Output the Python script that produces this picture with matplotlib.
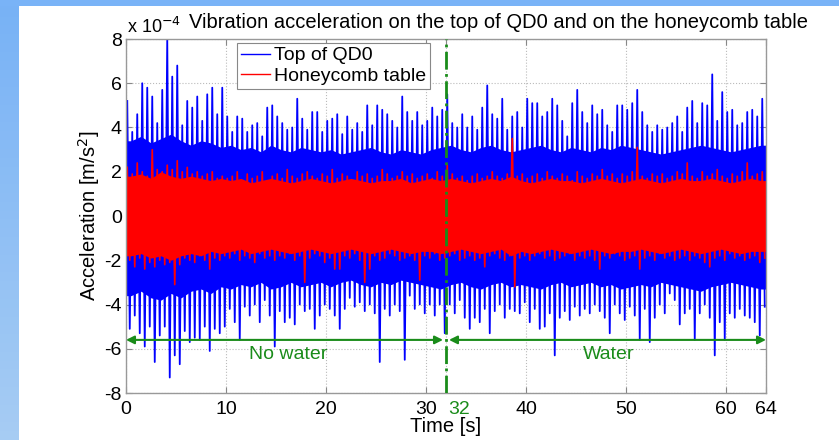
import numpy as np
import matplotlib
matplotlib.use('Agg')
import matplotlib.pyplot as plt
from matplotlib.transforms import ScaledTranslation

plt.rcParams['font.family'] = ['Liberation Sans', 'DejaVu Sans']

# --------------------------
# data (units of 1e-4 m/s^2)
# peaks: one value per 0.5 s bin, core: edge of the solid band per 1 s
# --------------------------
bin_width = 0.5
core_width = 1.0
top_upper = [5.2, 3.8, 4.6, 6.0, 5.8, 5.4, 4.2, 5.7, 8.0, 6.3, 6.8, 4.1, 5.2, 4.9, 5.4, 4.3,
             5.5, 5.8, 4.6, 5.8, 4.5, 3.8, 4.5, 4.4, 3.8, 4.1, 4.2, 3.6, 4.9, 5.0, 4.5, 4.2,
             3.9, 4.0, 5.3, 4.4, 3.9, 4.7, 4.7, 3.8, 4.3, 4.4, 4.6, 3.7, 4.5, 3.9, 4.2, 3.8,
             5.0, 4.1, 5.0, 4.8, 4.6, 4.3, 4.0, 5.4, 4.7, 4.3, 4.7, 4.1, 4.3, 4.9, 4.5, 4.8,
             5.5, 4.2, 4.0, 4.6, 4.0, 4.5, 3.9, 4.9, 5.9, 4.6, 4.4, 5.3, 3.9, 4.5, 4.7, 4.0,
             5.3, 5.1, 5.1, 4.5, 4.7, 5.3, 5.0, 4.3, 3.6, 5.1, 5.7, 4.7, 4.2, 5.0, 4.6, 4.8,
             4.1, 3.8, 5.0, 5.0, 4.8, 5.1, 5.7, 4.7, 4.1, 3.8, 4.1, 3.9, 4.0, 4.2, 4.5, 3.8,
             4.9, 5.2, 4.2, 5.1, 5.0, 6.4, 4.3, 5.6, 4.7, 4.8, 4.1, 4.2, 4.7, 4.8, 4.5, 5.3]
top_lower = [-5.1, -4.5, -5.3, -5.9, -5.0, -6.6, -5.4, -5.0, -7.3, -6.3, -6.7, -5.2, -5.7, -5.5, -5.6, -5.0,
             -6.1, -5.1, -5.3, -5.0, -4.2, -4.8, -5.6, -4.1, -4.5, -4.0, -4.8, -3.8, -4.5, -5.9, -4.3, -4.8,
             -4.6, -4.9, -4.0, -4.3, -4.2, -5.1, -4.5, -4.0, -4.2, -4.5, -5.1, -4.2, -3.7, -4.1, -3.9, -4.3,
             -4.0, -4.4, -6.6, -4.2, -4.5, -4.0, -4.3, -6.5, -3.6, -4.2, -4.0, -4.4, -4.0, -4.5, -4.0, -5.3,
             -4.0, -4.4, -3.8, -4.6, -5.1, -4.6, -4.8, -4.2, -5.3, -4.3, -4.0, -4.6, -4.2, -4.3, -4.4, -3.9,
             -4.8, -4.2, -5.1, -5.0, -4.4, -6.3, -4.6, -4.3, -4.7, -4.1, -4.5, -4.2, -4.4, -4.0, -4.3, -4.6,
             -5.3, -4.0, -4.4, -4.7, -4.1, -4.5, -5.6, -4.2, -5.7, -4.6, -4.0, -4.4, -3.5, -3.8, -4.9, -4.4,
             -4.2, -5.6, -4.4, -4.0, -4.6, -6.3, -4.8, -5.6, -4.4, -4.6, -4.2, -4.5, -4.6, -4.8, -5.4, -4.1]
table_upper = [2.2, 1.9, 2.4, 2.0, 1.8, 3.0, 2.1, 2.0, 2.3, 2.1, 2.5, 2.0, 2.2, 1.9, 2.0, 1.8,
               1.9, 2.0, 1.7, 1.8, 1.7, 1.8, 2.0, 1.6, 1.9, 1.7, 1.8, 2.0, 1.6, 1.8, 1.9, 1.7,
               2.1, 1.8, 1.7, 1.9, 2.0, 1.8, 1.7, 1.9, 1.8, 2.1, 1.7, 1.9, 1.8, 1.6, 2.0, 1.8,
               1.9, 1.7, 1.8, 2.1, 1.9, 1.7, 1.8, 2.0, 1.8, 1.9, 1.7, 1.8, 1.9, 1.7, 2.0, 1.8,
               2.3, 1.9, 1.7, 1.8, 1.6, 1.8, 1.9, 1.7, 1.8, 2.0, 1.8, 1.7, 1.9, 3.5, 1.8, 1.9,
               1.7, 1.8, 1.9, 1.7, 2.0, 1.8, 1.7, 1.9, 1.8, 1.6, 2.0, 1.8, 1.7, 1.9, 1.8, 2.1,
               1.8, 1.9, 1.7, 1.9, 1.8, 2.0, 3.1, 1.8, 1.7, 1.9, 1.8, 1.9, 1.7, 1.8, 2.0, 1.9,
               2.4, 1.8, 1.7, 2.0, 1.8, 1.9, 2.1, 1.8, 1.7, 1.9, 1.8, 2.0, 2.4, 1.8, 1.9, 2.0]
table_lower = [-2.0, -2.3, -1.9, -2.4, -2.1, -2.3, -2.0, -2.2, -2.1, -3.1, -2.2, -1.9, -2.0, -2.1, -1.8, -2.0,
               -2.4, -1.9, -2.0, -1.8, -1.9, -1.7, -2.0, -1.8, -1.9, -2.1, -1.7, -1.9, -1.8, -2.0, -1.8, -1.9,
               -1.7, -2.0, -1.8, -3.0, -1.9, -1.7, -1.8, -2.1, -1.9, -2.4, -2.4, -1.8, -1.9, -1.7, -2.0, -3.0,
               -2.4, -1.8, -2.0, -1.9, -1.7, -1.8, -2.0, -1.9, -1.8, -2.0, -2.9, -1.8, -1.9, -1.7, -2.0, -1.9,
               -1.8, -1.7, -2.0, -1.9, -1.8, -2.0, -1.9, -2.3, -1.8, -1.7, -1.9, -2.0, -1.8, -3.2, -1.9, -1.8,
               -2.0, -1.8, -1.7, -1.9, -1.8, -2.0, -1.9, -1.8, -1.7, -2.0, -1.8, -1.9, -1.8, -2.0, -2.4, -1.8,
               -1.9, -1.7, -1.8, -2.0, -1.9, -1.8, -2.4, -1.9, -1.8, -2.0, -1.7, -1.9, -1.8, -2.0, -1.9, -1.8,
               -2.0, -1.8, -1.9, -2.1, -2.3, -1.9, -1.8, -2.0, -1.7, -1.9, -1.8, -2.0, -1.9, -1.8, -2.1, -1.9]
top_core_upper = [3.4, 3.6, 3.3, 3.5, 3.7, 3.4, 3.2, 3.4, 3.3, 3.1,
                  3.2, 3.0, 3.1, 2.9, 3.2, 3.0, 2.9, 3.1, 3.0, 2.9,
                  3.0, 2.8, 2.9, 3.0, 3.1, 2.9, 2.8, 3.0, 2.9, 2.8,
                  3.0, 3.1, 3.2, 3.0, 2.9, 3.1, 3.2, 3.0, 2.9, 3.0,
                  3.1, 3.2, 3.0, 2.9, 3.1, 3.0, 2.9, 3.1, 3.0, 3.2,
                  3.1, 3.0, 2.9, 2.8, 2.9, 3.0, 3.1, 3.2, 3.1, 3.0,
                  2.9, 3.0, 3.1, 3.2]
top_core_lower = [-3.6, -3.4, -3.7, -3.8, -3.5, -3.7, -3.4, -3.3, -3.5, -3.2,
                  -3.3, -3.1, -3.2, -3.0, -3.3, -3.2, -3.0, -3.2, -3.1, -3.0,
                  -3.2, -3.0, -2.9, -3.1, -3.2, -3.0, -3.1, -2.9, -3.0, -3.1,
                  -3.2, -3.3, -3.1, -3.0, -3.2, -3.3, -3.1, -3.0, -3.2, -3.1,
                  -3.2, -3.3, -3.1, -3.0, -3.2, -3.1, -3.0, -3.2, -3.1, -3.3,
                  -3.2, -3.1, -3.2, -3.0, -3.1, -3.2, -3.3, -3.4, -3.2, -3.1,
                  -3.0, -3.1, -3.2, -3.3]
table_core_upper = [1.8, 1.9, 1.7, 2.0, 1.8, 1.7, 1.8, 1.7, 1.6, 1.7,
                    1.6, 1.7, 1.5, 1.6, 1.7, 1.6, 1.5, 1.6, 1.7, 1.6,
                    1.5, 1.6, 1.7, 1.6, 1.5, 1.6, 1.6, 1.7, 1.5, 1.6,
                    1.7, 1.6, 1.7, 1.6, 1.5, 1.6, 1.7, 1.6, 1.8, 1.6,
                    1.5, 1.6, 1.7, 1.6, 1.6, 1.5, 1.6, 1.7, 1.6, 1.5,
                    1.6, 1.7, 1.6, 1.5, 1.6, 1.7, 1.6, 1.6, 1.7, 1.6,
                    1.5, 1.6, 1.7, 1.6]
table_core_lower = [-1.8, -1.7, -1.9, -1.8, -2.0, -1.8, -1.7, -1.8, -1.6, -1.7,
                    -1.6, -1.5, -1.7, -1.6, -1.5, -1.6, -1.7, -1.6, -1.5, -1.6,
                    -1.7, -1.6, -1.5, -1.6, -1.7, -1.6, -1.5, -1.6, -1.7, -1.6,
                    -1.6, -1.7, -1.6, -1.5, -1.6, -1.7, -1.6, -1.5, -1.8, -1.6,
                    -1.7, -1.6, -1.5, -1.6, -1.7, -1.6, -1.5, -1.6, -1.7, -1.6,
                    -1.6, -1.5, -1.6, -1.7, -1.6, -1.5, -1.6, -1.7, -1.6, -1.5,
                    -1.6, -1.7, -1.6, -1.6]

xticks = [0, 10, 20, 30, 32, 40, 50, 60, 64]
yticks = [-8, -6, -4, -2, 0, 2, 4, 6, 8]
water_start = 32
t_end = 64

green = '#1a8c1a'
fs = 14


def zigzag(upper, lower):
    # each bin: its positive peak, then its negative peak
    t0 = np.arange(len(upper)) * bin_width
    tt = np.column_stack([t0 + bin_width * 0.25, t0 + bin_width * 0.75]).ravel()
    vv = np.column_stack([upper, lower]).ravel() * 1e-4
    return tt, vv


def core_band(ax, upper, lower, color, z):
    tc = (np.arange(len(upper)) + 0.5) * core_width
    tc = np.concatenate([[0], tc, [t_end]])
    up = np.concatenate([[upper[0]], upper, [upper[-1]]]) * 1e-4
    lo = np.concatenate([[lower[0]], lower, [lower[-1]]]) * 1e-4
    ax.fill_between(tc, lo, up, color=color, lw=0, zorder=z)


fig = plt.figure(figsize=(8.39, 4.40), dpi=100)

# blue frame of the slide
band = fig.add_axes([0, 0, 19/839, 1])
band.imshow(np.linspace(0, 1, 50)[:, None], cmap=matplotlib.colors.LinearSegmentedColormap.from_list(
    'b', ['#78b2f6', '#a6ccf3']), aspect='auto', extent=[0, 1, 0, 1], origin='upper')
band.axis('off')
strip = fig.add_axes([0, 1 - 6/440, 1, 6/440])
strip.set_facecolor('#79b3f7')
strip.set_xticks([]); strip.set_yticks([])
for s in strip.spines.values():
    s.set_visible(False)

ax = fig.add_axes([126/839, 1 - 393/440, 640/839, 354/440])
ax.grid(True, ls=':', color='#bbbbbb', lw=0.8)
ax.set_axisbelow(True)

t1, v1 = zigzag(top_upper, top_lower)
t2, v2 = zigzag(table_upper, table_lower)
core_band(ax, top_core_upper, top_core_lower, 'blue', 2)
ax.plot(t1, v1, color='blue', lw=1.3, label='Top of QD0', zorder=2.1)
core_band(ax, table_core_upper, table_core_lower, 'red', 2.2)
ax.plot(t2, v2, color='red', lw=1.2, label='Honeycomb table', zorder=2.3)

ax.axvline(water_start, color=green, ls='-.', lw=2, zorder=3)

# arrows for the two periods
ya = -5.6e-4
ax.annotate('', xy=(0, ya), xytext=(water_start - 0.3, ya),
            arrowprops=dict(arrowstyle='<|-|>', color=green, lw=1.5, mutation_scale=12,
                            shrinkA=0, shrinkB=0), zorder=3)
ax.annotate('', xy=(water_start + 0.3, ya), xytext=(t_end, ya),
            arrowprops=dict(arrowstyle='<|-|>', color=green, lw=1.5, mutation_scale=12,
                            shrinkA=0, shrinkB=0), zorder=3)
ax.text(16.2, -6.25e-4, 'No water', color=green, fontsize=fs, ha='center', va='center')
ax.text(48.3, -6.25e-4, 'Water', color=green, fontsize=fs, ha='center', va='center')

ax.set_xlim(0, t_end)
ax.set_ylim(-8e-4, 8e-4)
ax.set_xticks(xticks)
ax.set_xticklabels([str(x) for x in xticks])
ax.set_yticks([y * 1e-4 for y in yticks])
ax.set_yticklabels([str(y) for y in yticks])
ax.tick_params(direction='in', top=True, right=True, length=4, color='#888888',
               labelsize=fs)
ax.tick_params(axis='x', pad=6)
ax.tick_params(axis='y', pad=3)
# the 32 label sits green, a bit to the right of its tick
lab32 = ax.get_xticklabels()[xticks.index(water_start)]
lab32.set_color(green)
lab32.set_transform(lab32.get_transform() + ScaledTranslation(13/100, 0, fig.dpi_scale_trans))
for s in ax.spines.values():
    s.set_color('#999999')
    s.set_linewidth(1.0)

ax.set_xlabel('Time [s]', fontsize=14.5, labelpad=-1)
ax.set_ylabel('Acceleration [m/s$^2$]', fontsize=14.5, labelpad=2)

fig.text(127/839, 1 - 33/440, r'x 10$^{-4}$', fontsize=13, va='baseline')
fig.text(189/839, 1 - 28/440, 'Vibration acceleration on the top of QD0 and on the honeycomb table',
         fontsize=14.5, va='baseline')

leg = ax.legend(loc='upper left', bbox_to_anchor=(237/839, 1 - 43/440),
                bbox_transform=fig.transFigure, fontsize=14, fancybox=False,
                framealpha=1, edgecolor='#888888', handlelength=1.5,
                borderpad=0.2, labelspacing=0.15, handletextpad=0.2, borderaxespad=0)
leg.get_frame().set_linewidth(0.8)
leg.set_zorder(5)
for h in leg.get_lines():
    h.set_linewidth(1.0)

fig.savefig('out.png', dpi=100)
